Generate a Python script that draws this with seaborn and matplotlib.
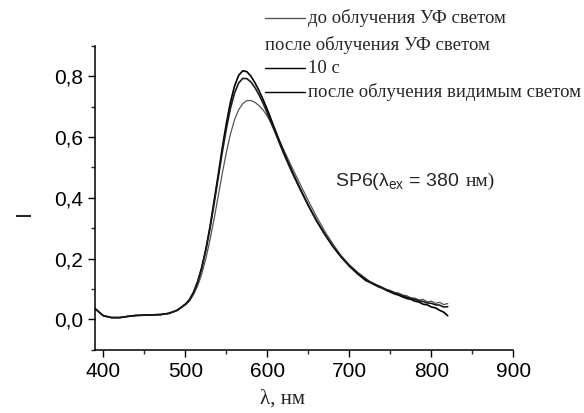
import numpy as np
import pandas as pd
import matplotlib
matplotlib.use("Agg")
import matplotlib.pyplot as plt
import seaborn as sns
from matplotlib.lines import Line2D
from matplotlib.ticker import MultipleLocator, FuncFormatter

# wavelength grid (nm)
wavelength = [390, 400, 410, 420, 430, 440, 450, 460, 470, 480, 490,
              500, 505, 510, 515, 520, 525, 530, 535, 540, 545, 550, 555, 560, 565,
              570, 575, 580, 585, 590, 595, 600, 605, 610, 615, 620,
              630, 640, 650, 660, 670, 680, 690, 700, 710, 720,
              725, 730, 735, 740, 745, 750, 755, 760, 765, 770, 775, 780, 785, 790,
              795, 800, 805, 810, 815, 820]

# before UV irradiation (lower, grey curve)
before_uv = [0.035, 0.012, 0.006, 0.006, 0.010, 0.013, 0.014, 0.015, 0.016, 0.020, 0.030,
             0.048, 0.060, 0.082, 0.110, 0.150, 0.200, 0.262, 0.330, 0.405, 0.480, 0.550, 0.610,
             0.657, 0.690, 0.710, 0.720, 0.720, 0.714, 0.703, 0.688, 0.668, 0.643, 0.615, 0.587,
             0.558,
             0.500, 0.445, 0.390, 0.338, 0.290, 0.248, 0.210, 0.180, 0.155, 0.135,
             0.125, 0.118, 0.112, 0.106, 0.099, 0.095, 0.089, 0.087, 0.080, 0.078, 0.071, 0.070,
             0.064, 0.066, 0.058, 0.060, 0.053, 0.056, 0.049, 0.052]

# after UV 10 s (top curve)
uv_10s = [0.035, 0.012, 0.006, 0.006, 0.010, 0.013, 0.014, 0.015, 0.016, 0.020, 0.030,
          0.050, 0.065, 0.090, 0.125, 0.172, 0.232, 0.305, 0.390, 0.475, 0.565, 0.645, 0.715,
          0.768, 0.803, 0.818, 0.815, 0.800, 0.778, 0.752, 0.722, 0.690, 0.655, 0.620, 0.585,
          0.550,
          0.488, 0.430, 0.375, 0.325, 0.280, 0.240, 0.205, 0.175, 0.150, 0.128,
          0.122, 0.115, 0.108, 0.103, 0.096, 0.090, 0.084, 0.080, 0.074, 0.069, 0.066, 0.060,
          0.057, 0.050, 0.048, 0.041, 0.038, 0.030, 0.024, 0.012]

# after visible light (middle curve)
after_vis = [0.035, 0.012, 0.006, 0.006, 0.010, 0.013, 0.014, 0.015, 0.016, 0.020, 0.030,
             0.050, 0.064, 0.088, 0.122, 0.168, 0.228, 0.298, 0.380, 0.465, 0.550, 0.628, 0.695,
             0.745, 0.778, 0.793, 0.792, 0.781, 0.762, 0.738, 0.710, 0.678, 0.645, 0.612, 0.578,
             0.545,
             0.484, 0.428, 0.374, 0.324, 0.280, 0.240, 0.206, 0.177, 0.153, 0.132,
             0.123, 0.117, 0.110, 0.104, 0.098, 0.093, 0.087, 0.083, 0.078, 0.073, 0.069, 0.066,
             0.061, 0.059, 0.054, 0.053, 0.048, 0.047, 0.041, 0.042]

series_names = ["до облучения УФ светом", "10 с", "после облучения видимым светом"]
series_colors = ["#555555", "#000000", "#1a1a1a"]
series_widths = [0.9, 1.2, 1.2]

df = pd.DataFrame({
    "wl": wavelength * 3,
    "I": before_uv + uv_10s + after_vis,
    "series": sum([[n] * len(wavelength) for n in series_names], []),
})

sns.set_theme(style="ticks")
plt.rcParams["font.family"] = ["Liberation Sans", "DejaVu Sans"]

fig = plt.figure(figsize=(5.84, 4.13), dpi=100)
ax = fig.add_axes([0.163, 0.153, 0.716, 0.736])

for name, col, lw in zip(series_names, series_colors, series_widths):
    sns.lineplot(data=df[df["series"] == name], x="wl", y="I", color=col,
                 linewidth=lw, ax=ax, legend=False)

ax.set_xlim(390, 900)
ax.set_ylim(-0.1, 0.9)
ax.xaxis.set_major_locator(MultipleLocator(100))
ax.xaxis.set_minor_locator(MultipleLocator(50))
ax.set_yticks([0.0, 0.2, 0.4, 0.6, 0.8])
ax.yaxis.set_minor_locator(MultipleLocator(0.1))
ax.yaxis.set_major_formatter(FuncFormatter(lambda v, p: f"{v:.1f}".replace(".", ",")))
ax.tick_params(which="major", direction="out", length=5, width=1, labelsize=15, colors="black")
ax.tick_params(which="minor", direction="out", length=3, width=1)
for s in ["top", "right"]:
    ax.spines[s].set_visible(False)
for s in ["left", "bottom"]:
    ax.spines[s].set_linewidth(1.1)
    ax.spines[s].set_color("black")

ax.set_xlabel("λ, нм", family="Liberation Serif", fontsize=15)
ax.xaxis.set_label_coords(0.447, -0.13)
ax.set_ylabel("I", fontsize=16)
ax.yaxis.set_label_coords(-0.145, 0.45)

# annotation: sans part, then serif units on the same baseline
t = ax.text(683, 0.44, "SP6(λ$_{\\mathregular{ex}}$ = 380  ", fontsize=14, va="baseline")
fig.canvas.draw()
bb = t.get_window_extent()
x_units = ax.transData.inverted().transform((bb.x1, 0))[0]
ax.text(x_units, 0.44, "нм)", family="Liberation Serif", fontsize=14, va="baseline")

# hand-made legend above the axes
serif = dict(family="Liberation Serif", fontsize=13.5, va="center", ha="left")
rows = [0.956, 0.891, 0.835, 0.777]
fig.add_artist(Line2D([0.454, 0.522], [rows[0], rows[0]], color="#555555", lw=1.0))
fig.text(0.528, rows[0], "до облучения УФ светом", **serif)
fig.text(0.454, rows[1], "после облучения УФ светом", **serif)
fig.add_artist(Line2D([0.454, 0.522], [rows[2], rows[2]], color="black", lw=1.0))
fig.text(0.528, rows[2], "10 с", **serif)
fig.add_artist(Line2D([0.454, 0.522], [rows[3], rows[3]], color="black", lw=1.0))
fig.text(0.528, rows[3], "после облучения видимым светом", **serif)

fig.savefig("out.png", dpi=100)
